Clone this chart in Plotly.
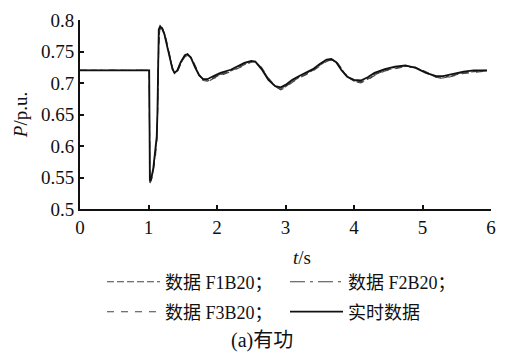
import plotly.graph_objects as go

# time axis (s)
t = [0.0, 0.99, 1.01, 1.02, 1.04, 1.07, 1.10, 1.12, 1.13, 1.15, 1.17, 1.20, 1.23, 1.26, 1.30,
     1.35, 1.38, 1.42, 1.47, 1.53, 1.57, 1.62, 1.68, 1.74, 1.80, 1.86, 1.95, 2.05, 2.20, 2.30,
     2.40, 2.50, 2.56, 2.65, 2.75, 2.85, 2.93, 3.00, 3.10, 3.20, 3.30, 3.40, 3.50, 3.60, 3.67,
     3.74, 3.82, 3.90, 4.00, 4.10, 4.20, 4.30, 4.45, 4.60, 4.75, 4.90, 5.05, 5.20, 5.30, 5.45,
     5.60, 5.75, 5.94]

# real-time data
p_real = [0.720, 0.720, 0.720, 0.545, 0.548, 0.565, 0.590, 0.615, 0.650, 0.785, 0.790, 0.786, 0.778, 0.765, 0.745,
          0.722, 0.716, 0.720, 0.733, 0.744, 0.746, 0.740, 0.725, 0.712, 0.706, 0.706, 0.711, 0.716, 0.721, 0.726,
          0.732, 0.735, 0.734, 0.722, 0.705, 0.695, 0.693, 0.697, 0.705, 0.711, 0.716, 0.722, 0.730, 0.737, 0.738,
          0.733, 0.720, 0.710, 0.705, 0.704, 0.709, 0.716, 0.722, 0.726, 0.728, 0.724, 0.716, 0.711, 0.711, 0.715,
          0.718, 0.720, 0.720]

# simulated data F1B20
p_f1 = [0.720, 0.720, 0.720, 0.542, 0.546, 0.562, 0.585, 0.608, 0.640, 0.770, 0.788, 0.787, 0.780, 0.767, 0.746,
        0.723, 0.715, 0.718, 0.731, 0.742, 0.745, 0.741, 0.727, 0.713, 0.704, 0.703, 0.708, 0.713, 0.719, 0.724,
        0.730, 0.734, 0.734, 0.724, 0.707, 0.694, 0.690, 0.694, 0.702, 0.709, 0.714, 0.720, 0.728, 0.735, 0.737,
        0.734, 0.722, 0.710, 0.703, 0.701, 0.706, 0.713, 0.720, 0.724, 0.727, 0.725, 0.717, 0.709, 0.708, 0.712,
        0.716, 0.718, 0.719]

# simulated data F2B20
p_f2 = [0.720, 0.720, 0.720, 0.543, 0.547, 0.563, 0.587, 0.610, 0.645, 0.775, 0.789, 0.786, 0.779, 0.766, 0.746,
        0.723, 0.716, 0.719, 0.732, 0.743, 0.745, 0.740, 0.726, 0.712, 0.705, 0.704, 0.709, 0.714, 0.720, 0.725,
        0.731, 0.734, 0.733, 0.723, 0.706, 0.695, 0.691, 0.695, 0.703, 0.710, 0.715, 0.721, 0.729, 0.736, 0.737,
        0.733, 0.721, 0.710, 0.704, 0.702, 0.707, 0.714, 0.721, 0.725, 0.727, 0.724, 0.716, 0.710, 0.709, 0.713,
        0.717, 0.719, 0.720]

# simulated data F3B20
p_f3 = [0.720, 0.720, 0.720, 0.541, 0.545, 0.560, 0.582, 0.605, 0.632, 0.760, 0.786, 0.788, 0.781, 0.769, 0.748,
        0.725, 0.715, 0.717, 0.730, 0.741, 0.744, 0.741, 0.728, 0.714, 0.704, 0.702, 0.707, 0.712, 0.718, 0.723,
        0.729, 0.733, 0.734, 0.725, 0.708, 0.695, 0.689, 0.693, 0.701, 0.708, 0.713, 0.719, 0.727, 0.734, 0.737,
        0.735, 0.723, 0.711, 0.703, 0.700, 0.705, 0.712, 0.719, 0.723, 0.726, 0.725, 0.718, 0.709, 0.707, 0.711,
        0.715, 0.717, 0.719]

names = ["数据 F1B20；", "数据 F2B20；", "数据 F3B20；", "实时数据"]

FONT = "Liberation Serif, Noto Sans CJK SC, serif"

fig = go.Figure()
fig.add_trace(go.Scatter(x=t, y=p_f1, mode="lines", name=names[0], legend="legend",
                         line=dict(color="#444444", width=1.1, dash="7px,3px")))
fig.add_trace(go.Scatter(x=t, y=p_f2, mode="lines", name=names[1], legend="legend",
                         line=dict(color="#444444", width=1.1, dash="15px,5px,3px,5px")))
fig.add_trace(go.Scatter(x=t, y=p_f3, mode="lines", name=names[2], legend="legend2",
                         line=dict(color="#444444", width=1.1, dash="7px,7px")))
fig.add_trace(go.Scatter(x=t, y=p_real, mode="lines", name=names[3], legend="legend2",
                         line=dict(color="#111111", width=1.8)))

legend_common = dict(orientation="h", xref="container", yref="container",
                     xanchor="left", yanchor="middle", entrywidth=115, entrywidthmode="pixels",
                     itemwidth=53, font=dict(family=FONT, size=18, color="#111111"),
                     bgcolor="rgba(0,0,0,0)", borderwidth=0, traceorder="normal",
                     itemclick=False, itemdoubleclick=False)

fig.update_layout(
    width=513, height=357,
    margin=dict(l=80, r=22, t=20, b=148, autoexpand=False),
    paper_bgcolor="white", plot_bgcolor="white",
    font=dict(family=FONT, size=19, color="#111111"),
    showlegend=True,
    legend=dict(x=102 / 513, y=1 - 282 / 357, **legend_common),
    legend2=dict(x=102 / 513, y=1 - 312 / 357, **legend_common),
    xaxis=dict(range=[0, 6], tickvals=[0, 1, 2, 3, 4, 5, 6], ticks="inside", ticklen=4,
               tickwidth=1.5, tickcolor="#111111", showline=True, linecolor="#111111", linewidth=2,
               showgrid=False, zeroline=False, mirror=False, automargin=False,
               tickfont=dict(family=FONT, size=19)),
    yaxis=dict(range=[0.5, 0.8], tickvals=[0.5, 0.55, 0.6, 0.65, 0.7, 0.75, 0.8],
               ticktext=["0.5", "0.55", "0.6", "0.65", "0.7", "0.75", "0.8"],
               ticks="inside", ticklen=4, tickwidth=1.5, tickcolor="#111111",
               showline=True, linecolor="#111111", linewidth=2, showgrid=False, zeroline=False,
               automargin=False,
               tickfont=dict(family=FONT, size=19),
               title=dict(text="<i>P</i>/p.u.", font=dict(family=FONT, size=19), standoff=8)),
    annotations=[
        dict(text="<i>t</i>/s", xref="paper", yref="paper", x=0.54, y=(209 - 257) / 189,
             xanchor="center", yanchor="middle", showarrow=False,
             font=dict(family=FONT, size=19, color="#111111")),
        dict(text="(a)有功", xref="paper", yref="paper", x=0.442, y=(209 - 340) / 189,
             xanchor="center", yanchor="middle", showarrow=False,
             font=dict(family=FONT, size=20, color="#111111")),
    ],
)

fig.write_html("out.html", config={"displayModeBar": False},
               post_script="document.body.style.margin='0';document.body.style.padding='0';")
